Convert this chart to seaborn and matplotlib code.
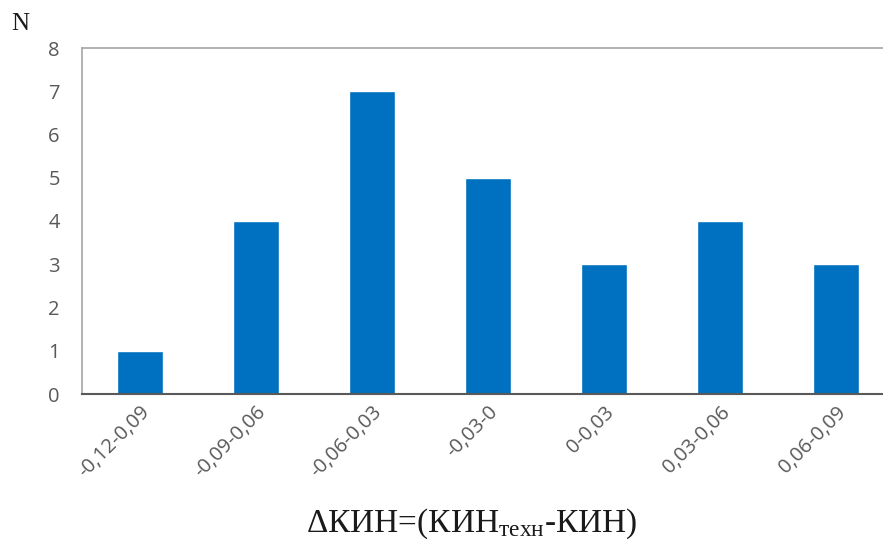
import matplotlib
matplotlib.use("Agg")
import matplotlib.pyplot as plt
import seaborn as sns
import pandas as pd

# Distribution of ΔКИН intervals
intervals = ["-0,12-0,09", "-0,09-0,06", "-0,06-0,03", "-0,03-0",
             "0-0,03", "0,03-0,06", "0,06-0,09"]
counts = [1, 4, 7, 5, 3, 4, 3]

df = pd.DataFrame({"interval": intervals, "N": counts})

sns.set_theme(style="white")
plt.rcParams["font.family"] = ["Open Sans", "DejaVu Sans"]
plt.rcParams["mathtext.fontset"] = "custom"
plt.rcParams["mathtext.rm"] = "Liberation Serif"
plt.rcParams["mathtext.it"] = "Liberation Serif:italic"

fig = plt.figure(figsize=(8.83, 5.44), dpi=100)
W, H = 883, 544
left, right, top, bottom = 82, 894, 48, 394
ax = fig.add_axes([left / W, 1 - bottom / H, (right - left) / W, (bottom - top) / H])

sns.barplot(data=df, x="interval", y="N", color="#0070C0", width=0.4,
            saturation=1, ax=ax)

ax.set_ylim(0, 8)
ax.set_xlim(-0.5, len(intervals) - 0.5)
ax.set_yticks(range(0, 9))
ax.tick_params(axis="y", length=0, pad=16, labelsize=14.5, labelcolor="#595959")
ax.tick_params(axis="x", length=0, pad=6, labelsize=14.5, labelcolor="#595959")
for lab in ax.get_xticklabels():
    lab.set_rotation(45)
    lab.set_ha("right")
    lab.set_rotation_mode("anchor")

for side in ("left", "top"):
    ax.spines[side].set_color("#A6A6A6")
    ax.spines[side].set_linewidth(1.2)
ax.spines["bottom"].set_color("#595959")
ax.spines["bottom"].set_linewidth(1.5)
ax.spines["right"].set_visible(False)

ax.set_xlabel("")
ax.set_ylabel("")

fig.text(11 / W, 1 - 24 / H, "N", family="Liberation Serif", fontsize=18,
         color="#1a1a1a", va="center", ha="left")
fig.text(472 / W, 1 - 524 / H, "ΔКИН=(КИН$_{\\mathrm{техн}}$-КИН)",
         family="Liberation Serif", fontsize=24, color="#1a1a1a",
         ha="center", va="center")

fig.savefig("out.png", dpi=100)
